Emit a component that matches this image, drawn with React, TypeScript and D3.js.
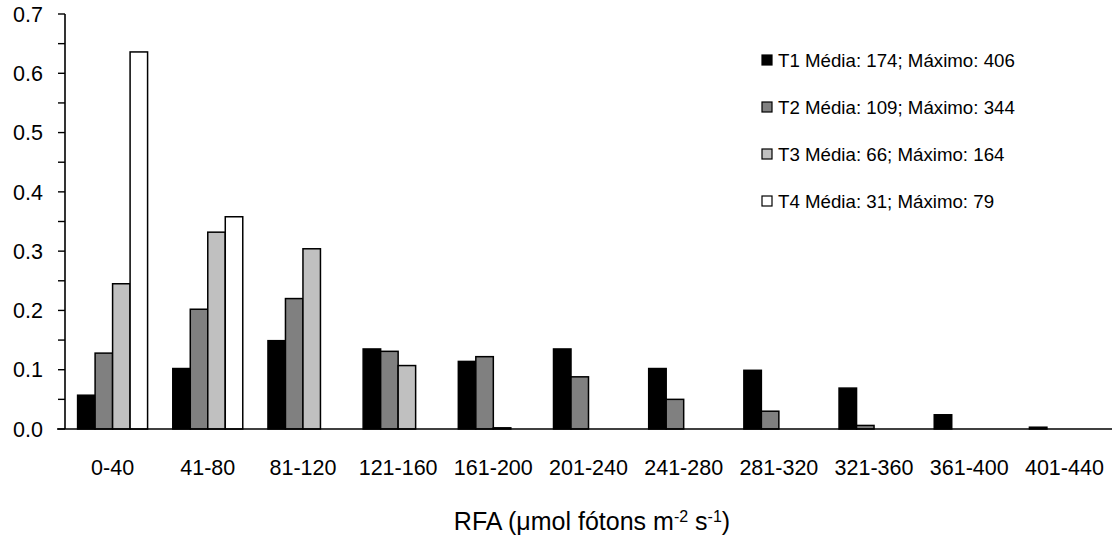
import React, { useEffect, useRef } from "react";
import * as d3 from "d3";

const categories: string[] = [
  "0-40",
  "41-80",
  "81-120",
  "121-160",
  "161-200",
  "201-240",
  "241-280",
  "281-320",
  "321-360",
  "361-400",
  "401-440",
];

const seriesNames: string[] = ["T1", "T2", "T3", "T4"];
const legendLabels: string[] = [
  "T1 Média: 174; Máximo: 406",
  "T2 Média: 109; Máximo: 344",
  "T3 Média: 66; Máximo: 164",
  "T4 Média: 31; Máximo: 79",
];

const t1: number[] = [0.057, 0.102, 0.149, 0.135, 0.114, 0.135, 0.102, 0.099, 0.069, 0.024, 0.003];
const t2: number[] = [0.128, 0.202, 0.22, 0.131, 0.122, 0.088, 0.05, 0.03, 0.006, 0, 0];
const t3: number[] = [0.245, 0.332, 0.304, 0.107, 0.002, 0, 0, 0, 0, 0, 0];
const t4: number[] = [0.636, 0.358, 0, 0, 0, 0, 0, 0, 0, 0, 0];

const yTicks: number[] = [0, 0.1, 0.2, 0.3, 0.4, 0.5, 0.6, 0.7];
const colors: string[] = ["#000000", "#808080", "#c0c0c0", "#ffffff"];

const FONT = "'Liberation Sans', Arial, sans-serif";

function createChart(el: SVGSVGElement) {
  const svg = d3.select(el);
  svg.selectAll("*").remove();

  const left = 65,
    right = 1112,
    top = 14,
    bottom = 429;

  const values = [t1, t2, t3, t4];

  const x0 = d3.scaleBand<string>().domain(categories).range([left, right]).padding(0);
  const x1 = d3
    .scaleBand<string>()
    .domain(seriesNames)
    .range([0, x0.bandwidth()])
    .paddingInner(0)
    .paddingOuter(0.72);
  const y = d3.scaleLinear().domain([0, 0.7]).range([bottom, top]);

  // bars
  const groups = svg
    .append("g")
    .selectAll("g")
    .data(categories)
    .enter()
    .append("g")
    .attr("transform", (d) => `translate(${x0(d)},0)`);

  groups
    .selectAll("rect")
    .data((_, i) =>
      seriesNames.map((s, k) => ({ s, k, v: values[k][i] })).filter((d) => d.v > 0)
    )
    .enter()
    .append("rect")
    .attr("x", (d) => x1(d.s) as number)
    .attr("width", x1.bandwidth())
    .attr("y", (d) => y(d.v))
    .attr("height", (d) => y(0) - y(d.v))
    .attr("fill", (d) => colors[d.k])
    .attr("stroke", "#000")
    .attr("stroke-width", 1.5);

  // y axis
  svg
    .append("line")
    .attr("x1", left)
    .attr("x2", left)
    .attr("y1", y(0.7))
    .attr("y2", y(0))
    .attr("stroke", "#000")
    .attr("stroke-width", 1.6);

  const minor = d3.range(0, 0.7001, 0.05);
  svg
    .append("g")
    .selectAll("line")
    .data(minor)
    .enter()
    .append("line")
    .attr("x1", left - 7)
    .attr("x2", left)
    .attr("y1", (d) => y(d))
    .attr("y2", (d) => y(d))
    .attr("stroke", "#000")
    .attr("stroke-width", 1.4);

  svg
    .append("g")
    .selectAll("text")
    .data(yTicks)
    .enter()
    .append("text")
    .attr("x", 43)
    .attr("y", (d) => y(d))
    .attr("dy", "0.36em")
    .attr("text-anchor", "end")
    .attr("font-family", FONT)
    .attr("font-size", 21.5)
    .text((d) => d3.format(".1f")(d));

  // x axis
  svg
    .append("line")
    .attr("x1", left - 8)
    .attr("x2", right)
    .attr("y1", y(0))
    .attr("y2", y(0))
    .attr("stroke", "#000")
    .attr("stroke-width", 1.6);

  svg
    .append("g")
    .selectAll("text")
    .data(categories)
    .enter()
    .append("text")
    .attr("x", (d) => (x0(d) as number) + x0.bandwidth() / 2)
    .attr("y", 475)
    .attr("text-anchor", "middle")
    .attr("font-family", FONT)
    .attr("font-size", 21.5)
    .text((d) => d);

  // x axis title
  const title = svg
    .append("text")
    .attr("x", 592)
    .attr("y", 530)
    .attr("text-anchor", "middle")
    .attr("font-family", FONT)
    .attr("font-size", 25);
  title.append("tspan").text("RFA (μmol fótons m");
  title.append("tspan").attr("dy", -8).attr("font-size", 16).text("-2");
  title.append("tspan").attr("dy", 8).text(" s");
  title.append("tspan").attr("dy", -8).attr("font-size", 16).text("-1");
  title.append("tspan").attr("dy", 8).text(")");

  // legend
  const legend = svg
    .append("g")
    .selectAll("g")
    .data(legendLabels)
    .enter()
    .append("g")
    .attr("transform", (_, i) => `translate(762, ${60 + i * 47})`);

  legend
    .append("rect")
    .attr("x", 0)
    .attr("y", -5)
    .attr("width", 10)
    .attr("height", 10)
    .attr("fill", (_, i) => colors[i])
    .attr("stroke", "#000")
    .attr("stroke-width", 1.2);

  legend
    .append("text")
    .attr("x", 16)
    .attr("y", 0)
    .attr("dy", "0.36em")
    .attr("font-family", FONT)
    .attr("font-size", 18.7)
    .text((d) => d);
}

export default function App() {
  const ref = useRef<SVGSVGElement>(null);

  useEffect(() => {
    document.body.style.margin = "0";
    if (ref.current) createChart(ref.current);
  }, []);

  return (
    <svg
      ref={ref}
      width={1114}
      height={537}
      style={{ display: "block", background: "#fff" }}
    />
  );
}
